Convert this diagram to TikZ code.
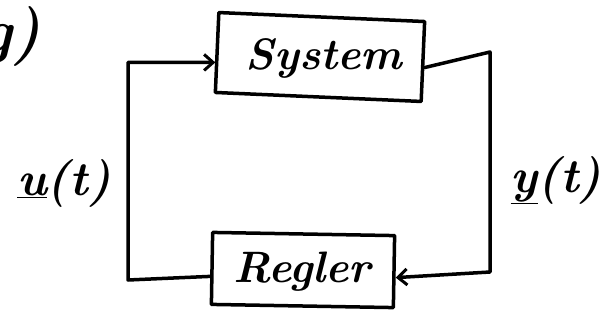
\documentclass[tikz,border=0pt]{standalone}
\usetikzlibrary{arrows.meta}
\begin{document}
\begin{tikzpicture}[x=1pt,y=-1pt,
  ink/.style={line width=3.5pt,line cap=round,line join=round},
  blk/.style={ink,draw,rectangle,inner sep=0pt},
  hand/.style={font=\fontsize{44}{44}\selectfont\bfseries\itshape},
  lbl/.style={font=\fontsize{48}{48}\selectfont\bfseries\itshape},
  arr/.style={-{Straight Barb[length=9pt,width=16pt,line width=3pt]}}]
\useasboundingbox (0,0) rectangle (613,329);
\node[font=\fontsize{60}{60}\selectfont\bfseries\itshape,anchor=east] (g) at (44,36) {g)};
\node[blk,rotate=-2.5,minimum width=206pt,minimum height=80pt] (S) at (320,57) {};
\node[hand] (St) at (324,58) {System};
\node[blk,rotate=-1,minimum width=182pt,minimum height=72pt] (R) at (303,270) {};
\node[hand] (Rt) at (302,272) {Regler};
\node[lbl] (u) at (64,183) {\underline{u}(t)};
\node[lbl] (y) at (556,180) {\underline{y}(t)};
\coordinate (rc) at (490,52);
\coordinate (lc) at (128,280);
\draw[ink,arr] ([yshift=-8pt]R.west) -- (lc) |- ([yshift=-10pt]S.west);
\draw[ink,arr] ([yshift=-6pt]S.east) -- (rc) -- (490,272) -- ([yshift=-6pt]R.east);
\end{tikzpicture}
\end{document}
